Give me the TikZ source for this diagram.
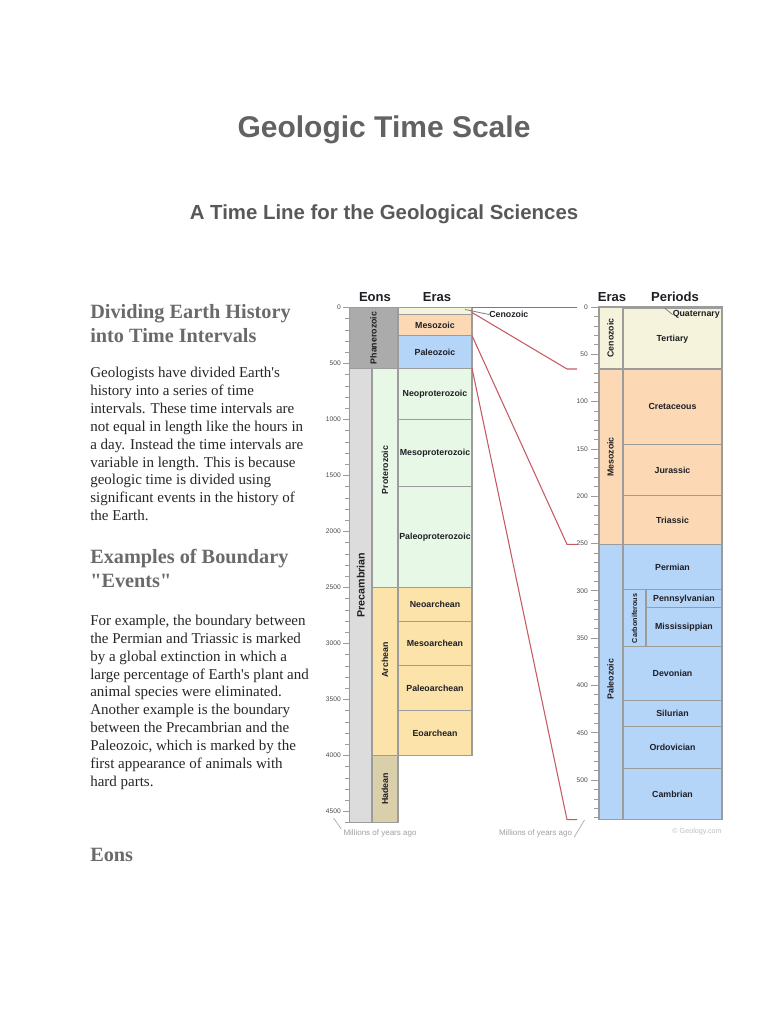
\documentclass[tikz,border=0pt]{standalone}
\usepackage{fontspec}
\setmainfont{Liberation Serif}[Ligatures=TeXOff]
\newfontfamily\arialfont{Liberation Sans}

\definecolor{titlegray}{HTML}{626262}
\definecolor{headgray}{HTML}{6A6A6A}
\definecolor{bodygray}{HTML}{262626}
\definecolor{labgray}{HTML}{1E1E24}
\definecolor{numgray}{HTML}{4A4A4A}
\definecolor{linegray}{HTML}{9C9C9C}
\definecolor{phanfill}{HTML}{ABABAB}
\definecolor{precfill}{HTML}{DCDCDC}
\definecolor{protfill}{HTML}{E8F8E6}
\definecolor{archfill}{HTML}{FBE3AA}
\definecolor{hadefill}{HTML}{D9D0AB}
\definecolor{cenofill}{HTML}{F5F3DB}
\definecolor{mesofill}{HTML}{FCD9B4}
\definecolor{paleofill}{HTML}{B4D4F8}
\definecolor{linkred}{HTML}{C65A63}

\begin{document}
\begin{tikzpicture}[x=0.75pt,y=-0.75pt,
  box/.style={draw=linegray,line width=0.8pt},
  lab/.style={font=\arialfont\bfseries\fontsize{6.6}{8}\selectfont,text=labgray,inner sep=0pt},
  vlab/.style={lab,rotate=90},
  head/.style={font=\arialfont\bfseries\fontsize{9.8}{11}\selectfont,text=labgray,inner sep=0pt},
  num/.style={font=\arialfont\fontsize{5}{6}\selectfont,text=numgray,anchor=east,inner sep=0pt},
  tick/.style={draw=linegray,line width=0.6pt},
  link/.style={draw=linkred,line width=0.8pt},
  lead/.style={draw=gray,line width=0.6pt},
  note/.style={font=\arialfont\fontsize{6}{7}\selectfont,text=gray!75,inner sep=0pt},
  heading/.style={font=\bfseries\fontsize{15.2}{18}\selectfont,text=headgray,align=left,inner sep=0pt,anchor=north west},
  body/.style={font=\fontsize{11.25}{13.4}\selectfont,text=bodygray,align=left,inner sep=0pt,anchor=north west}]
\useasboundingbox (0,0) rectangle (768,1024);

% titles
\node[font=\arialfont\bfseries\fontsize{22.5}{27}\selectfont,text=titlegray,anchor=base] (title) at (384,137.3) {Geologic Time Scale};
\node[font=\arialfont\bfseries\fontsize{15.3}{18}\selectfont,text=titlegray!90!black,anchor=base] (subtitle) at (384,219) {A Time Line for the Geological Sciences};

% left column text
\node[heading] (headdiv) at (90,304.3) {Dividing Earth History\\into Time Intervals};
\node[body] (textdiv) at (90,367.1) {Geologists have divided Earth's\\history into a series of time\\intervals. These time intervals are\\not equal in length like the hours in\\a day. Instead the time intervals are\\variable in length. This is because\\geologic time is divided using\\significant events in the history of\\the Earth.};
\node[heading] (headex) at (90,548.7) {Examples of Boundary\\"Events"};
\node[body] (textex) at (90,614.8) {For example, the boundary between\\the Permian and Triassic is marked\\by a global extinction in which a\\large percentage of Earth's plant and\\animal species were eliminated.\\Another example is the boundary\\between the Precambrian and the\\Paleozoic, which is marked by the\\first appearance of animals with\\hard parts.};
\node[heading] (headeons) at (90,848) {Eons};

% ---- whole of earth history (y = 307.5 + 0.112 t)
\node[head] (heons) at (375,297) {Eons};
\node[head] (heras) at (437,297) {Eras};

\foreach \t in {0,100,...,4600}
  \draw[tick] (345,{307.5+0.112*\t}) -- (349.5,{307.5+0.112*\t});
\foreach \t in {0,500,...,4500}{
  \draw[tick] (343,{307.5+0.112*\t}) -- (349.5,{307.5+0.112*\t});
  \node[num] (ln\t) at (341,{307.5+0.112*\t}) {\t};
}

% eons
\draw[box,fill=phanfill] (349.5,307.5) rectangle (398,368.2);
\draw[box,fill=precfill] (349.5,368.2) rectangle (372,822.7);
\draw[box,fill=protfill] (372,368.2) rectangle (398,587.5);
\draw[box,fill=archfill] (372,587.5) rectangle (398,755.5);
\draw[box,fill=hadefill] (372,755.5) rectangle (398,822.7);
% eras
\draw[box,fill=cenofill] (398,307.5) rectangle (472,314.8);
\draw[box,fill=mesofill] (398,314.8) rectangle (472,335.6);
\draw[box,fill=paleofill] (398,335.6) rectangle (472,368.2);
\draw[box,fill=protfill] (398,368.2) rectangle (472,419.5);
\draw[box,fill=protfill] (398,419.5) rectangle (472,486.7);
\draw[box,fill=protfill] (398,486.7) rectangle (472,587.5);
\draw[box,fill=archfill] (398,587.5) rectangle (472,621.1);
\draw[box,fill=archfill] (398,621.1) rectangle (472,665.9);
\draw[box,fill=archfill] (398,665.9) rectangle (472,710.7);
\draw[box,fill=archfill] (398,710.7) rectangle (472,755.5);

\node[vlab] (phan) at (373.5,338) {Phanerozoic};
\node[vlab,font=\arialfont\bfseries\fontsize{8}{9}\selectfont] (prec) at (360.7,585) {Precambrian};
\node[vlab] (prot) at (385,470) {Proterozoic};
\node[vlab] (arch) at (385,660) {Archean};
\node[vlab] (hade) at (385,789) {Hadean};

\node[lab] (lmeso) at (435,325.2) {Mesozoic};
\node[lab] (lpaleo) at (435,352) {Paleozoic};
\node[lab] (neoprot) at (435,394) {Neoproterozoic};
\node[lab] (mesoprot) at (435,453) {Mesoproterozoic};
\node[lab] (paleoprot) at (435,537) {Paleoproterozoic};
\node[lab] (neoarch) at (435,604.3) {Neoarchean};
\node[lab] (mesoarch) at (435,643.5) {Mesoarchean};
\node[lab] (paleoarch) at (435,688.3) {Paleoarchean};
\node[lab] (eoarch) at (435,733.1) {Eoarchean};

\coordinate (cenopt) at (465,309.5);
\node[lab,anchor=west] (lceno) at (489,314.5) {Cenozoic};
\draw[lead] (cenopt) -- (lceno.west);

\node[note] (mya1) at (380,833) {Millions of years ago};
\coordinate (myatop1) at (333.5,818);
\draw[lead,draw=gray!60] (myatop1) -- ([xshift=-1.5]mya1.north west);

% ---- phanerozoic (y = 307 + 0.946 t)
\node[head] (heras2) at (612,297) {Eras};
\node[head] (hper) at (675,297) {Periods};

\foreach \t in {0,10,...,540}
  \draw[tick] (593.5,{307+0.946*\t}) -- (599,{307+0.946*\t});
\foreach \t in {0,50,...,500}{
  \draw[tick] (590.5,{307+0.946*\t}) -- (599,{307+0.946*\t});
  \node[num] (rn\t) at (588,{307+0.946*\t}) {\t};
}

% eras
\draw[box,fill=cenofill] (599,307) rectangle (623,369);
\draw[box,fill=mesofill] (599,369) rectangle (623,544.4);
\draw[box,fill=paleofill] (599,544.4) rectangle (623,819.7);
% periods
\draw[box,fill=cenofill] (623,307) rectangle (722,308.7);
\draw[box,fill=cenofill] (623,308.7) rectangle (722,369);
\draw[box,fill=mesofill] (623,369) rectangle (722,444.6);
\draw[box,fill=mesofill] (623,444.6) rectangle (722,495.8);
\draw[box,fill=mesofill] (623,495.8) rectangle (722,544.4);
\draw[box,fill=paleofill] (623,544.4) rectangle (722,589.9);
\draw[box,fill=paleofill] (623,589.9) rectangle (646,646.8);
\draw[box,fill=paleofill] (646,589.9) rectangle (722,607.9);
\draw[box,fill=paleofill] (646,607.9) rectangle (722,646.8);
\draw[box,fill=paleofill] (623,646.8) rectangle (722,700.5);
\draw[box,fill=paleofill] (623,700.5) rectangle (722,726.7);
\draw[box,fill=paleofill] (623,726.7) rectangle (722,768.9);
\draw[box,fill=paleofill] (623,768.9) rectangle (722,819.7);

\node[vlab] (rceno) at (610.5,338) {Cenozoic};
\node[vlab] (rmeso) at (610.5,457) {Mesozoic};
\node[vlab] (rpaleo) at (610.5,679) {Paleozoic};
\node[vlab,font=\arialfont\bfseries\fontsize{5.4}{6}\selectfont] (carb) at (634.5,618.4) {Carboniferous};

\coordinate (quatpt) at (664.5,308);
\node[lab,anchor=west] (quat) at (672.5,314.5) {Quaternary};
\draw[lead] (quatpt) -- (quat.west);
\node[lab] (tert) at (672.5,338.9) {Tertiary};
\node[lab] (cret) at (672.5,406.8) {Cretaceous};
\node[lab] (jura) at (672.5,470.2) {Jurassic};
\node[lab] (tria) at (672.5,520.1) {Triassic};
\node[lab] (perm) at (672.5,567.2) {Permian};
\node[lab] (penn) at (684,598.9) {Pennsylvanian};
\node[lab] (miss) at (684,627.4) {Mississippian};
\node[lab] (devo) at (672.5,673.6) {Devonian};
\node[lab] (silu) at (672.5,713.6) {Silurian};
\node[lab] (ordo) at (672.5,747.8) {Ordovician};
\node[lab] (camb) at (672.5,794.3) {Cambrian};

\node[note] (mya2) at (535.5,833) {Millions of years ago};
\coordinate (myatop2) at (584.5,820);
\draw[lead,draw=gray!60] (myatop2) -- ([xshift=1.5]mya2.south east);
\node[note,font=\arialfont\fontsize{5.4}{6}\selectfont,text=gray!50] (credit) at (697,832) {\textcopyright{} Geology.com};

% red links between the two scales
\coordinate (lk0) at (472,307.5);
\coordinate (rk0) at (577,307.5);
\coordinate (lk1) at (472,312.5);
\coordinate (bk1) at (567,369);
\coordinate (rk1) at (577,369);
\coordinate (lk2) at (472,335.6);
\coordinate (bk2) at (567,544.4);
\coordinate (rk2) at (577,544.4);
\coordinate (lk3) at (472,368.2);
\coordinate (bk3) at (567,819.7);
\coordinate (rk3) at (577,819.7);
\draw[link] (lk0) -- (rk0);
\draw[link] (lk1) -- (bk1) -- (rk1);
\draw[link] (lk2) -- (bk2) -- (rk2);
\draw[link] (lk3) -- (bk3) -- (rk3);
\end{tikzpicture}
\end{document}
